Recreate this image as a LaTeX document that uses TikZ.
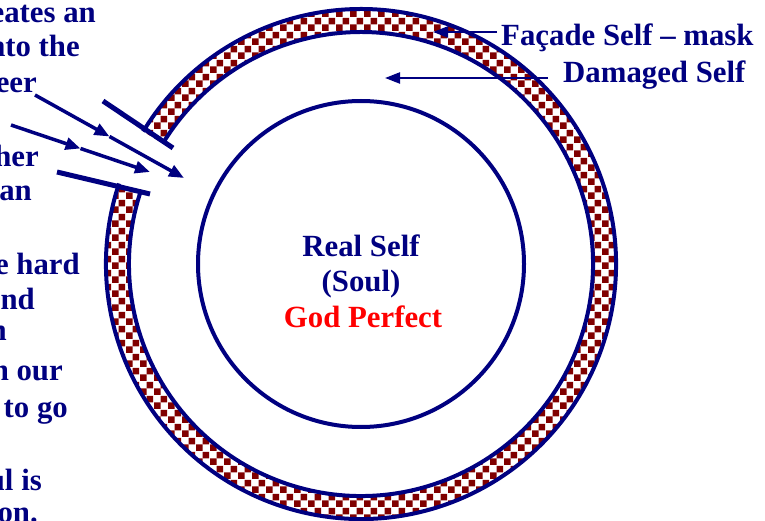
\documentclass[tikz,border=0pt]{standalone}
\usepackage{fontspec}
\setmainfont{Liberation Serif}
\usetikzlibrary{arrows.meta,patterns.meta}
\definecolor{navy}{HTML}{000080}
\definecolor{maroonc}{HTML}{800000}
\definecolor{redc}{HTML}{FF0000}
\tikzdeclarepattern{
  name=ringcheck,
  type=uncolored,
  bounding box={(0pt,0pt) and (14pt,14pt)},
  tile size={(14pt,14pt)},
  code={
    \fill (0pt,0pt) rectangle (7pt,7pt);
    \fill (7pt,7pt) rectangle (14pt,14pt);
  }
}
\begin{document}
\begin{tikzpicture}[x=1pt,y=-1pt,
  lbl/.style={font=\fontsize{30.8}{34}\selectfont\bfseries, text=navy, inner sep=0pt},
  ringline/.style={draw=navy, line width=4pt},
  thinarrow/.style={draw=navy, line width=2.3pt, -{Triangle[length=15pt,width=11pt]}},
  hitarrow/.style={draw=navy, line width=3.5pt, -{Triangle[length=15pt,width=12pt]}},
  barline/.style={draw=navy, line width=5pt}]
\useasboundingbox (0,0) rectangle (765,521);
\clip (0,0) rectangle (765,521);
\coordinate (c) at (361,264);
% checkered ring (Facade self)
\fill[pattern=ringcheck, pattern color=maroonc]
  (c) ++(198.4:255) arc[start angle=198.4, end angle=-148.7, radius=255]
  -- ++(-148.7:-23) arc[start angle=-148.7, end angle=198.4, radius=232] -- cycle;
\draw[ringline] (c) ++(198.4:255) arc[start angle=198.4, end angle=-148.7, radius=255];
\draw[ringline] (c) ++(198.4:232) arc[start angle=198.4, end angle=-148.7, radius=232];
% inner circle (real self)
\draw[ringline] (c) circle[radius=163];
% centre texts
\node[lbl, anchor=base] (real) at (361,256) {Real Self};
\node[lbl, anchor=base] (soul) at (361,291) {(Soul)};
\node[lbl, anchor=base, text=redc] (god) at (363,327) {God Perfect};
% right labels and arrows
\node[lbl, anchor=base west] (facade) at (501,46) {Façade Self – mask};
\node[lbl, anchor=base west] (damaged) at (563,83) {Damaged Self};
\coordinate (fa1) at (497,32);
\coordinate (fa2) at (433,32);
\coordinate (da1) at (548,78);
\coordinate (da2) at (385,78);
\draw[thinarrow] (fa1) -- (fa2);
\draw[thinarrow] (da1) -- (da2);
% bars across the gap
\coordinate (b1s) at (103,101);
\coordinate (b1e) at (173,148);
\coordinate (b2s) at (57,172);
\coordinate (b2e) at (150,194);
\draw[barline] (b1s) -- (b1e);
\draw[barline] (b2s) -- (b2e);
% arrows into the gap
\coordinate (a1s) at (35,95);
\coordinate (a1m) at (109.5,136.5);
\coordinate (a1e) at (184,178);
\coordinate (a2s) at (11,125);
\coordinate (a2m) at (80.5,148.5);
\coordinate (a2e) at (150,172);
\draw[hitarrow] (a1s) -- (a1m);
\draw[hitarrow] (a1m) -- (a1e);
\draw[hitarrow] (a2s) -- (a2m);
\draw[hitarrow] (a2m) -- (a2e);
% left text (cut off at the edge, as in the reference)
\node[lbl, anchor=base east] (t1) at (96,23) {eates an};
\node[lbl, anchor=base east] (t2) at (80,57) {nto the};
\node[lbl, anchor=base east] (t3) at (37,93) {eer};
\node[lbl, anchor=base east] (t4) at (39,167) {her};
\node[lbl, anchor=base east] (t5) at (32,201) {an};
\node[lbl, anchor=base east] (t6) at (80,274) {e hard};
\node[lbl, anchor=base east] (t7) at (35,309) {and};
\node[lbl, anchor=base east] (t8) at (7,340) {n};
\node[lbl, anchor=base east] (t9) at (63,380) {n our};
\node[lbl, anchor=base east] (t10) at (68,417) {to go};
\node[lbl, anchor=base east] (t11) at (42,490) {ul is};
\node[lbl, anchor=base east] (t12) at (38,522) {on.};
\end{tikzpicture}
\end{document}
